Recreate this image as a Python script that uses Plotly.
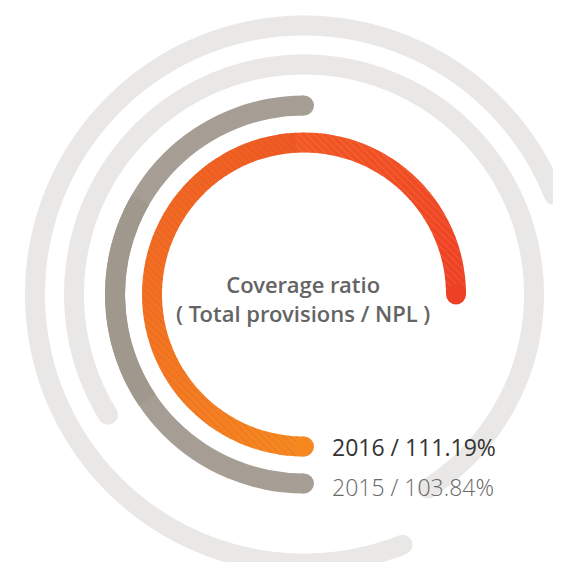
import numpy as np
import plotly.graph_objects as go

# ---- data ----
years = ["2016", "2015"]
coverage_ratio = [111.19, 103.84]          # %
title_lines = ["Coverage ratio", "( Total provisions / NPL )"]

# ---- styling / geometry constants (pixels == axis units) ----
W, H = 561, 562
CX, CY = 296, 286.5               # centre of rings in px (from top-left)
R_VIEW = 265                      # polar radial range shown 1:1 in px
THICK = 20
arc_radius = {"2016": 152, "2015": 189}
arc_sweep = {"2016": 270, "2015": 180}   # degrees, clockwise from bottom
ring_radius = [230, 269]
ring_start = [211.5, 21.8]               # degrees (math convention)
ring_end = [-57.5, 291.5]
RING_COLOR = "#e9e8e6"
GRAY = "#a69e94"
GRAY_SHADE = "#a0988d"
ORANGE_START = (247, 136, 32)
ORANGE_END = (238, 64, 36)
FONT = "Open Sans"

fig = go.Figure()

# decorative outer rings on a 1:1 pixel cartesian layer centred on the rings
for rr, a0, a1 in zip(ring_radius, ring_start, ring_end):
    n = int(abs(a1 - a0)) * 3 + 1
    th = np.radians(np.linspace(a0, a1, n))
    fig.add_trace(go.Scatter(x=rr * np.cos(th), y=rr * np.sin(th), mode="lines",
                             line=dict(color=RING_COLOR, width=THICK, simplify=False),
                             cliponaxis=False, hoverinfo="skip", showlegend=False))
    ends = np.radians([a0, a1])
    fig.add_trace(go.Scatter(x=rr * np.cos(ends), y=rr * np.sin(ends), mode="markers",
                             marker=dict(size=THICK, color=RING_COLOR, line=dict(width=0)),
                             cliponaxis=False, hoverinfo="skip", showlegend=False))

def caps(r_mid, thetas, colors):
    fig.add_trace(go.Scatterpolar(r=[r_mid] * len(thetas), theta=thetas, mode="markers",
                                  marker=dict(size=THICK, color=colors, line=dict(width=0)),
                                  cliponaxis=False, hoverinfo="skip", showlegend=False))

# 2015 arc (gray)
r15 = arc_radius["2015"]
s15 = arc_sweep["2015"]
start15, end15 = 270, 270 - s15
fig.add_trace(go.Barpolar(r=[THICK, THICK], base=[r15 - THICK / 2] * 2,
                          theta=[(start15 + end15) / 2, 182], width=[s15, 64],
                          marker=dict(color=[GRAY, GRAY_SHADE], line=dict(width=0)),
                          hoverinfo="skip", showlegend=False))
caps(r15, [start15, end15], [GRAY, GRAY])

# 2016 arc (orange gradient with fine stripes)
r16 = arc_radius["2016"]
s16 = arc_sweep["2016"]
start16, end16 = 270, 270 - s16
nseg = 90
step = s16 / nseg
def mix(t):
    c = [int(round(a + (b - a) * t)) for a, b in zip(ORANGE_START, ORANGE_END)]
    return "rgb(%d,%d,%d)" % tuple(c)
seg_colors = [mix((i + 0.5) / nseg) for i in range(nseg)]
seg_centers = [start16 - step * (i + 0.5) for i in range(nseg)]
fig.add_trace(go.Barpolar(r=[THICK] * nseg, base=[r16 - THICK / 2] * nseg,
                          theta=seg_centers, width=[step * 1.15] * nseg,
                          marker=dict(color=seg_colors, line=dict(width=0),
                                      pattern=dict(shape="\\", fgcolor="white",
                                                   fgopacity=0.2, size=5, solidity=0.15)),
                          hoverinfo="skip", showlegend=False))
caps(r16, [start16, end16], [mix(0), mix(1)])

dx0 = (CX - R_VIEW) / W
dy0 = (H - CY - R_VIEW) / H
dy1 = (H - CY + R_VIEW) / H
fig.update_layout(
    width=W, height=H, margin=dict(l=0, r=0, t=0, b=0, pad=0),
    paper_bgcolor="white", plot_bgcolor="rgba(0,0,0,0)",
    xaxis=dict(range=[-CX, W - CX], domain=[0, 1], visible=False, fixedrange=True),
    yaxis=dict(range=[-(H - CY), CY], domain=[0, 1], visible=False, fixedrange=True),
    polar=dict(
        domain=dict(x=[dx0, 1.0], y=[dy0, dy1]),
        bgcolor="rgba(0,0,0,0)",
        radialaxis=dict(range=[0, R_VIEW], visible=False, showgrid=False),
        angularaxis=dict(rotation=0, direction="counterclockwise", visible=False,
                         showgrid=False, thetaunit="degrees"),
        barmode="overlay", bargap=0,
    ),
)

def px(x, y):
    return x / W, 1 - y / H

ax, ay = px(295, 290)
fig.add_annotation(x=ax, y=ay, xref="paper", yref="paper", showarrow=False,
                   text="<br>".join(title_lines), align="center",
                   xanchor="center", yanchor="middle",
                   font=dict(family="Open Sans SemiBold, Open Sans", size=22,
                             color="#646464", weight=600))

label_y = {"2016": 439, "2015": 479}
label_style = {"2016": ("#333333", 400), "2015": ("#6a6a6a", 300)}
for yr, val in zip(years, coverage_ratio):
    lx, ly = px(322, label_y[yr])
    col, wt = label_style[yr]
    fig.add_annotation(x=lx, y=ly, xref="paper", yref="paper", showarrow=False,
                       text=f"{yr} / {val:.2f}%", xanchor="left", yanchor="middle",
                       font=dict(family="Open Sans Light, Open Sans" if wt == 300 else FONT,
                                 size=23, color=col, weight=wt))

fig.write_html("out.html")
